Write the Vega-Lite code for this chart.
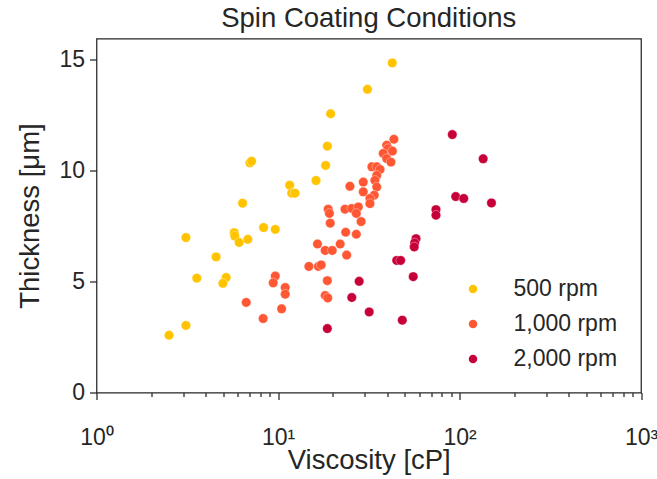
{
  "$schema": "https://vega.github.io/schema/vega-lite/v6.json",
  "width": 544.5,
  "height": 354,
  "autosize": {"type": "none"},
  "padding": {"left": 96.5, "top": 38.5, "right": 16, "bottom": 86.5},
  "background": "white",
  "title": {"text": "Spin Coating Conditions", "fontSize": 27.5, "font": "Liberation Sans", "fontWeight": "normal", "color": "#262626", "offset": 6, "anchor": "middle"},
  "config": {
    "view": {"stroke": "#262626", "strokeWidth": 1.25},
    "font": "Liberation Sans"
  },
  "data": {"values": [
    {"v": 42.6, "t": 14.85, "rpm": "500 rpm"},
    {"v": 31.1, "t": 13.66, "rpm": "500 rpm"},
    {"v": 19.5, "t": 12.56, "rpm": "500 rpm"},
    {"v": 18.7, "t": 11.1, "rpm": "500 rpm"},
    {"v": 18.3, "t": 10.23, "rpm": "500 rpm"},
    {"v": 7.0, "t": 10.35, "rpm": "500 rpm"},
    {"v": 7.15, "t": 10.42, "rpm": "500 rpm"},
    {"v": 16.2, "t": 9.55, "rpm": "500 rpm"},
    {"v": 11.6, "t": 9.34, "rpm": "500 rpm"},
    {"v": 11.9, "t": 8.98, "rpm": "500 rpm"},
    {"v": 12.4, "t": 8.98, "rpm": "500 rpm"},
    {"v": 6.38, "t": 8.53, "rpm": "500 rpm"},
    {"v": 3.11, "t": 6.98, "rpm": "500 rpm"},
    {"v": 5.74, "t": 7.2, "rpm": "500 rpm"},
    {"v": 5.78, "t": 7.05, "rpm": "500 rpm"},
    {"v": 6.11, "t": 6.76, "rpm": "500 rpm"},
    {"v": 6.82, "t": 6.9, "rpm": "500 rpm"},
    {"v": 8.33, "t": 7.43, "rpm": "500 rpm"},
    {"v": 9.66, "t": 7.35, "rpm": "500 rpm"},
    {"v": 4.56, "t": 6.11, "rpm": "500 rpm"},
    {"v": 3.57, "t": 5.15, "rpm": "500 rpm"},
    {"v": 5.18, "t": 5.18, "rpm": "500 rpm"},
    {"v": 4.97, "t": 4.92, "rpm": "500 rpm"},
    {"v": 3.11, "t": 3.02, "rpm": "500 rpm"},
    {"v": 2.51, "t": 2.58, "rpm": "500 rpm"},
    {"v": 43.5, "t": 11.41, "rpm": "1,000 rpm"},
    {"v": 39.7, "t": 11.14, "rpm": "1,000 rpm"},
    {"v": 40.4, "t": 10.99, "rpm": "1,000 rpm"},
    {"v": 42.7, "t": 10.88, "rpm": "1,000 rpm"},
    {"v": 38.0, "t": 10.77, "rpm": "1,000 rpm"},
    {"v": 39.7, "t": 10.54, "rpm": "1,000 rpm"},
    {"v": 41.9, "t": 10.38, "rpm": "1,000 rpm"},
    {"v": 32.9, "t": 10.17, "rpm": "1,000 rpm"},
    {"v": 35.0, "t": 10.17, "rpm": "1,000 rpm"},
    {"v": 36.5, "t": 10.05, "rpm": "1,000 rpm"},
    {"v": 35.0, "t": 9.78, "rpm": "1,000 rpm"},
    {"v": 34.2, "t": 9.56, "rpm": "1,000 rpm"},
    {"v": 29.5, "t": 9.48, "rpm": "1,000 rpm"},
    {"v": 24.9, "t": 9.29, "rpm": "1,000 rpm"},
    {"v": 35.0, "t": 9.26, "rpm": "1,000 rpm"},
    {"v": 29.5, "t": 9.04, "rpm": "1,000 rpm"},
    {"v": 33.9, "t": 8.89, "rpm": "1,000 rpm"},
    {"v": 32.1, "t": 8.74, "rpm": "1,000 rpm"},
    {"v": 32.1, "t": 8.51, "rpm": "1,000 rpm"},
    {"v": 18.9, "t": 8.26, "rpm": "1,000 rpm"},
    {"v": 19.2, "t": 8.07, "rpm": "1,000 rpm"},
    {"v": 19.4, "t": 7.63, "rpm": "1,000 rpm"},
    {"v": 23.4, "t": 8.26, "rpm": "1,000 rpm"},
    {"v": 25.5, "t": 8.29, "rpm": "1,000 rpm"},
    {"v": 27.7, "t": 8.36, "rpm": "1,000 rpm"},
    {"v": 27.0, "t": 8.07, "rpm": "1,000 rpm"},
    {"v": 28.7, "t": 7.7, "rpm": "1,000 rpm"},
    {"v": 23.6, "t": 7.22, "rpm": "1,000 rpm"},
    {"v": 27.0, "t": 7.13, "rpm": "1,000 rpm"},
    {"v": 16.5, "t": 6.69, "rpm": "1,000 rpm"},
    {"v": 22.0, "t": 6.69, "rpm": "1,000 rpm"},
    {"v": 18.2, "t": 6.4, "rpm": "1,000 rpm"},
    {"v": 19.9, "t": 6.4, "rpm": "1,000 rpm"},
    {"v": 23.9, "t": 6.19, "rpm": "1,000 rpm"},
    {"v": 14.8, "t": 5.68, "rpm": "1,000 rpm"},
    {"v": 16.7, "t": 5.68, "rpm": "1,000 rpm"},
    {"v": 17.3, "t": 5.75, "rpm": "1,000 rpm"},
    {"v": 18.7, "t": 5.04, "rpm": "1,000 rpm"},
    {"v": 9.66, "t": 5.25, "rpm": "1,000 rpm"},
    {"v": 9.41, "t": 4.94, "rpm": "1,000 rpm"},
    {"v": 10.96, "t": 4.73, "rpm": "1,000 rpm"},
    {"v": 10.96, "t": 4.43, "rpm": "1,000 rpm"},
    {"v": 6.68, "t": 4.06, "rpm": "1,000 rpm"},
    {"v": 10.47, "t": 3.77, "rpm": "1,000 rpm"},
    {"v": 8.28, "t": 3.33, "rpm": "1,000 rpm"},
    {"v": 18.2, "t": 4.37, "rpm": "1,000 rpm"},
    {"v": 18.8, "t": 4.26, "rpm": "1,000 rpm"},
    {"v": 91.3, "t": 11.62, "rpm": "2,000 rpm"},
    {"v": 135, "t": 10.53, "rpm": "2,000 rpm"},
    {"v": 95.3, "t": 8.83, "rpm": "2,000 rpm"},
    {"v": 105.5, "t": 8.74, "rpm": "2,000 rpm"},
    {"v": 150, "t": 8.54, "rpm": "2,000 rpm"},
    {"v": 74.2, "t": 8.24, "rpm": "2,000 rpm"},
    {"v": 74.2, "t": 7.99, "rpm": "2,000 rpm"},
    {"v": 57.6, "t": 6.93, "rpm": "2,000 rpm"},
    {"v": 56.6, "t": 6.74, "rpm": "2,000 rpm"},
    {"v": 56.3, "t": 6.56, "rpm": "2,000 rpm"},
    {"v": 45.1, "t": 5.95, "rpm": "2,000 rpm"},
    {"v": 47.4, "t": 5.95, "rpm": "2,000 rpm"},
    {"v": 55.6, "t": 5.22, "rpm": "2,000 rpm"},
    {"v": 28.0, "t": 5.01, "rpm": "2,000 rpm"},
    {"v": 25.5, "t": 4.28, "rpm": "2,000 rpm"},
    {"v": 31.8, "t": 3.63, "rpm": "2,000 rpm"},
    {"v": 48.4, "t": 3.26, "rpm": "2,000 rpm"},
    {"v": 18.7, "t": 2.88, "rpm": "2,000 rpm"}
  ]},
  "mark": {"type": "circle", "size": 90, "opacity": 1, "stroke": "white", "strokeWidth": 0.6, "strokeOpacity": 0.6},
  "encoding": {
    "x": {
      "field": "v", "type": "quantitative",
      "scale": {"type": "log", "domain": [1, 1000], "nice": false},
      "axis": {
        "title": "Viscosity [cP]",
        "titleFontSize": 27.5, "titleFontWeight": "normal", "titleColor": "#262626", "titlePadding": -3,
        "values": [1,2,3,4,5,6,7,8,9,10,20,30,40,50,60,70,80,90,100,200,300,400,500,600,700,800,900,1000],
        "labelExpr": "datum.value == 1 ? '10⁰' : datum.value == 10 ? '10¹' : datum.value == 100 ? '10²' : datum.value == 1000 ? '10³' : ''",
        "labelOverlap": false, "labelFlush": false,
        "labelFontSize": 23, "labelColor": "#262626", "labelPadding": 27,
        "tickSize": {"condition": {"test": "datum.value == 1 || datum.value == 10 || datum.value == 100 || datum.value == 1000", "value": 7}, "value": 4},
        "tickColor": "#262626", "tickWidth": 1.25,
        "domain": false, "grid": false
      }
    },
    "y": {
      "field": "t", "type": "quantitative",
      "scale": {"domain": [0, 15.95], "nice": false, "zero": false},
      "axis": {
        "title": "Thickness [μm]",
        "titleFontSize": 27.5, "titleFontWeight": "normal", "titleColor": "#262626", "titlePadding": 14,
        "values": [0, 5, 10, 15],
        "labelFontSize": 23, "labelColor": "#262626", "labelPadding": 5,
        "tickSize": 7, "tickColor": "#262626", "tickWidth": 1.25,
        "domain": false, "grid": false
      }
    },
    "color": {
      "field": "rpm", "type": "nominal",
      "scale": {"domain": ["500 rpm", "1,000 rpm", "2,000 rpm"], "range": ["#FFC300", "#FF5733", "#C70039"]},
      "legend": {
        "title": null, "orient": "none", "legendX": 365, "legendY": 239,
        "labelFontSize": 23, "labelColor": "#262626", "labelOffset": 29,
        "symbolType": "circle", "symbolSize": 100, "rowPadding": 11, "padding": 0
      }
    }
  }
}
